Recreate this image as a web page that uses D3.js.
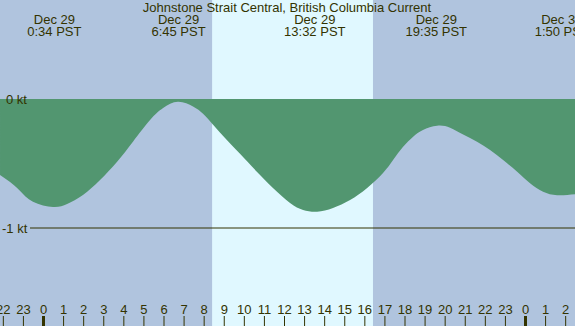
<!DOCTYPE html>
<html>
<head>
<meta charset="utf-8">
<script src="https://cdn.jsdelivr.net/npm/d3@7"></script>
<style>
  html, body { margin: 0; padding: 0; background: #b0c4de; }
  svg { display: block; }
  text { font-family: "Liberation Sans", Arial, sans-serif; font-size: 13px; fill: #333300; }
</style>
</head>
<body>
<div id="chart"></div>
<script>
// hours since Dec 29 00:00 PST, current in knots
const hours = [-2.14, -1.64, -1.15, -0.50, 0.50, 1.20, 1.99, 2.84, 3.69, 4.48, 5.33, 5.98, 6.72, 7.47,
    7.97, 8.47, 8.96, 9.81, 10.66, 11.45, 12.30, 12.95, 13.65, 14.44, 15.29, 16.14, 16.93, 17.43,
    17.93, 18.43, 18.92, 19.62, 20.27, 20.92, 21.61, 22.26, 22.91, 23.61, 24.25, 24.90, 25.60, 26.49];
const knots = [-0.589, -0.643, -0.711, -0.796, -0.837, -0.814, -0.744, -0.628, -0.486, -0.331, -0.163, -0.070, -0.022, -0.058,
    -0.115, -0.200, -0.285, -0.425, -0.565, -0.690, -0.806, -0.860, -0.874, -0.845, -0.783, -0.690, -0.574, -0.473,
    -0.370, -0.292, -0.240, -0.207, -0.222, -0.275, -0.331, -0.395, -0.473, -0.564, -0.653, -0.719, -0.746, -0.739];

// max/min events shown along the top
const eventHours = [0 + 34 / 60, 6 + 45 / 60, 13 + 32 / 60, 19 + 35 / 60, 24 + 1 + 50 / 60];
const eventDates = ['Dec 29', 'Dec 29', 'Dec 29', 'Dec 29', 'Dec 30'];
const eventTimes = ['0:34 PST', '6:45 PST', '13:32 PST', '19:35 PST', '1:50 PST'];

const daylight = [8.42, 16.43]; // sunrise, sunset
const hourTicks = d3.range(-2, 27);
const levelTicks = [0, -1];

const width = 575;
const height = 326;

const x = d3.scaleLinear().domain([0, 24]).range([43, 525]);
const y = d3.scaleLinear().domain([-1, 0]).range([228, 99]);

const svg = d3.select('#chart')
    .append('svg')
    .attr('width', width)
    .attr('height', height);

svg.append('rect')
    .attr('width', width)
    .attr('height', height)
    .attr('fill', '#b0c4de');

svg.append('rect')
    .attr('x', x(daylight[0]))
    .attr('width', x(daylight[1]) - x(daylight[0]))
    .attr('y', 0)
    .attr('height', height)
    .attr('fill', '#e0f8ff');

const data = hours.map((h, i) => ({ h: h, v: knots[i] }));

const area = d3.area()
    .x(d => x(d.h))
    .y0(y(0))
    .y1(d => y(d.v))
    .curve(d3.curveNatural);

svg.append('path')
    .datum(data)
    .attr('d', area)
    .attr('fill', '#529670');

// -1 kt reference line
svg.append('line')
    .attr('x1', 30)
    .attr('x2', width)
    .attr('y1', y(-1))
    .attr('y2', y(-1))
    .attr('stroke', '#333300')
    .attr('stroke-width', 1);

svg.selectAll('.lvl')
    .data(levelTicks)
    .enter()
        .append('text')
        .attr('class', 'lvl')
        .attr('x', d => d < 0 ? 2 : 6)
        .attr('y', d => y(d))
        .attr('dy', '0.35em')
        .attr('font-size', 12)
        .text(d => d + ' kt');

// title
svg.append('text')
    .attr('x', 287)
    .attr('y', 12)
    .attr('text-anchor', 'middle')
    .text('Johnstone Strait Central, British Columbia Current');

svg.selectAll('.evd')
    .data(eventHours)
    .enter()
        .append('text')
        .attr('text-anchor', 'middle')
        .attr('x', d => x(d))
        .attr('y', 24)
        .text((d, i) => eventDates[i]);

svg.selectAll('.evt')
    .data(eventHours)
    .enter()
        .append('text')
        .attr('text-anchor', 'middle')
        .attr('x', d => x(d))
        .attr('y', 36)
        .text((d, i) => eventTimes[i]);

// hour axis at the bottom, labels above ticks
const axis = svg.append('g')
    .attr('transform', `translate(0, ${height})`)
    .call(d3.axisTop(x)
        .tickValues(hourTicks)
        .tickSize(10)
        .tickPadding(2)
        .tickFormat(h => ((h % 24) + 24) % 24));

axis.select('.domain').remove();
axis.selectAll('.tick line')
    .attr('stroke', '#333300')
    .attr('stroke-width', h => h % 24 === 0 ? 3 : 1);
axis.selectAll('.tick text')
    .attr('font-family', '"Liberation Sans", Arial, sans-serif')
    .attr('font-size', 12)
    .attr('fill', '#333300');
</script>
</body>
</html>
